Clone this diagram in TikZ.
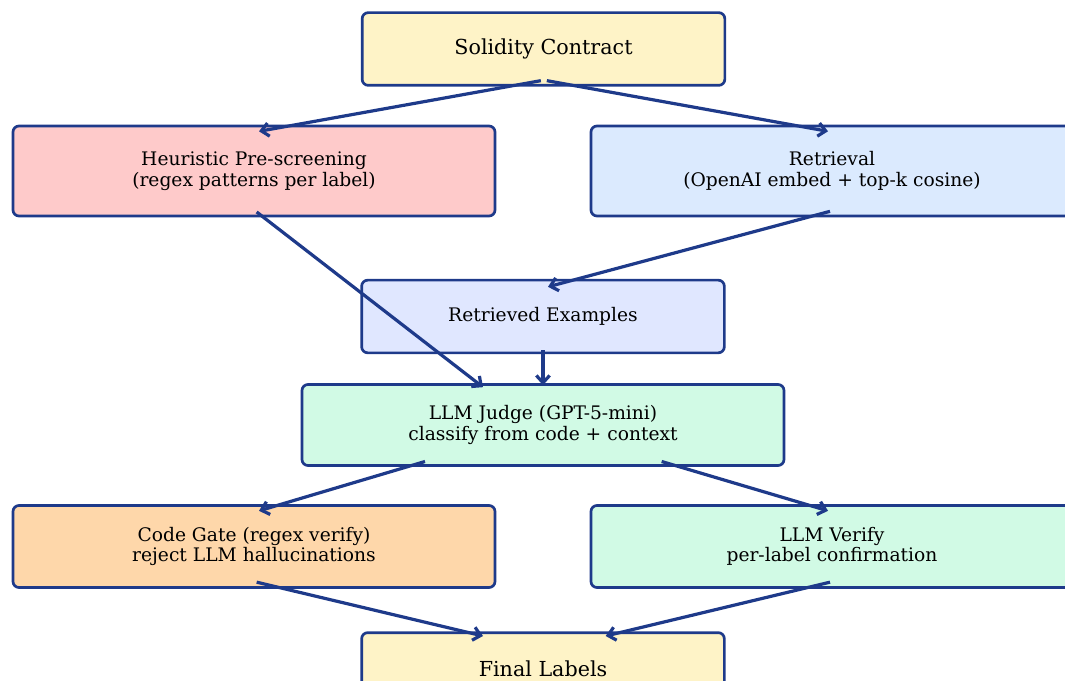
\documentclass[tikz,border=0pt]{standalone}
\usepackage{fontspec}
\setmainfont{DejaVu Serif}
\usetikzlibrary{arrows.meta}
\definecolor{edgeblue}{HTML}{1E3A8A}
\definecolor{cream}{HTML}{FEF3C7}
\definecolor{rose}{HTML}{FECACA}
\definecolor{sky}{HTML}{DBEAFE}
\definecolor{indigolt}{HTML}{E0E7FF}
\definecolor{mint}{HTML}{D1FAE5}
\definecolor{peach}{HTML}{FED7AA}
\tikzset{>={Straight Barb[length=5.5pt,width=10pt]}}
\tikzset{box/.style={draw=edgeblue, line width=2pt, rounded corners=4.5pt, align=center, inner sep=0pt, font=\fontsize{14}{15.5}\selectfont},
  wide/.style={box, minimum width=361.5pt},
  narrow/.style={box, minimum width=272pt, minimum height=54.5pt}}

\begin{document}
\begin{tikzpicture}[x=0.75pt, y=-0.75pt, arr/.style={->, draw=edgeblue, line width=2.4pt}]
  \useasboundingbox (0,0) rectangle (1065,681);
  \node[narrow, fill=cream, font=\fontsize{15.5}{18}\selectfont](sol) at (543.5,49){Solidity Contract};
  \node[wide, fill=rose, minimum height=67.5pt](heur) at (254,171){Heuristic Pre-screening\\(regex patterns per label)};
  \node[wide, fill=sky, minimum height=67.5pt](retr) at (832,171){Retrieval\\(OpenAI embed + top-k cosine)};
  \node[narrow, fill=indigolt](rex) at (543,316.5){Retrieved Examples};
  \node[wide, fill=mint, minimum height=60.75pt](judge) at (543,425){LLM Judge (GPT-5-mini)\\classify from code + context};
  \node[wide, fill=peach, minimum height=61.5pt](gate) at (254,546.5){Code Gate (regex verify)\\reject LLM hallucinations};
  \node[wide, fill=mint, minimum height=61.5pt](ver) at (832,546.5){LLM Verify\\per-label confirmation};
  \node[narrow, fill=cream, font=\fontsize{15.5}{18}\selectfont](fin) at (543,669){Final Labels};
  \draw[arr]([xshift=-2pt,yshift=4.5pt]sol.south)--([xshift=3.75pt,yshift=-5pt]heur.north);
  \draw[arr]([xshift=2.5pt,yshift=4.5pt]sol.south)--([xshift=-3pt,yshift=-5pt]retr.north);
  \draw[arr]([xshift=2pt,yshift=4pt]heur.south)--([xshift=-45pt,yshift=-3pt]judge.north);
  \draw[arr]([xshift=-1.5pt,yshift=4.5pt]retr.south)--([xshift=3.75pt,yshift=-6pt]rex.north);
  \draw[arr]([yshift=3pt]rex.south)--([yshift=-1.5pt]judge.north);
  \draw[arr]([xshift=-88.5pt,yshift=4pt]judge.south)--([xshift=3.75pt,yshift=-5pt]gate.north);
  \draw[arr]([xshift=89pt,yshift=4pt]judge.south)--([xshift=-3pt,yshift=-5pt]ver.north);
  \draw[arr]([xshift=2pt,yshift=5pt]gate.south)--([xshift=-45pt,yshift=-3.5pt]fin.north);
  \draw[arr]([xshift=-1.5pt,yshift=5pt]ver.south)--([xshift=47pt,yshift=-3.5pt]fin.north);
\end{tikzpicture}
\end{document}
